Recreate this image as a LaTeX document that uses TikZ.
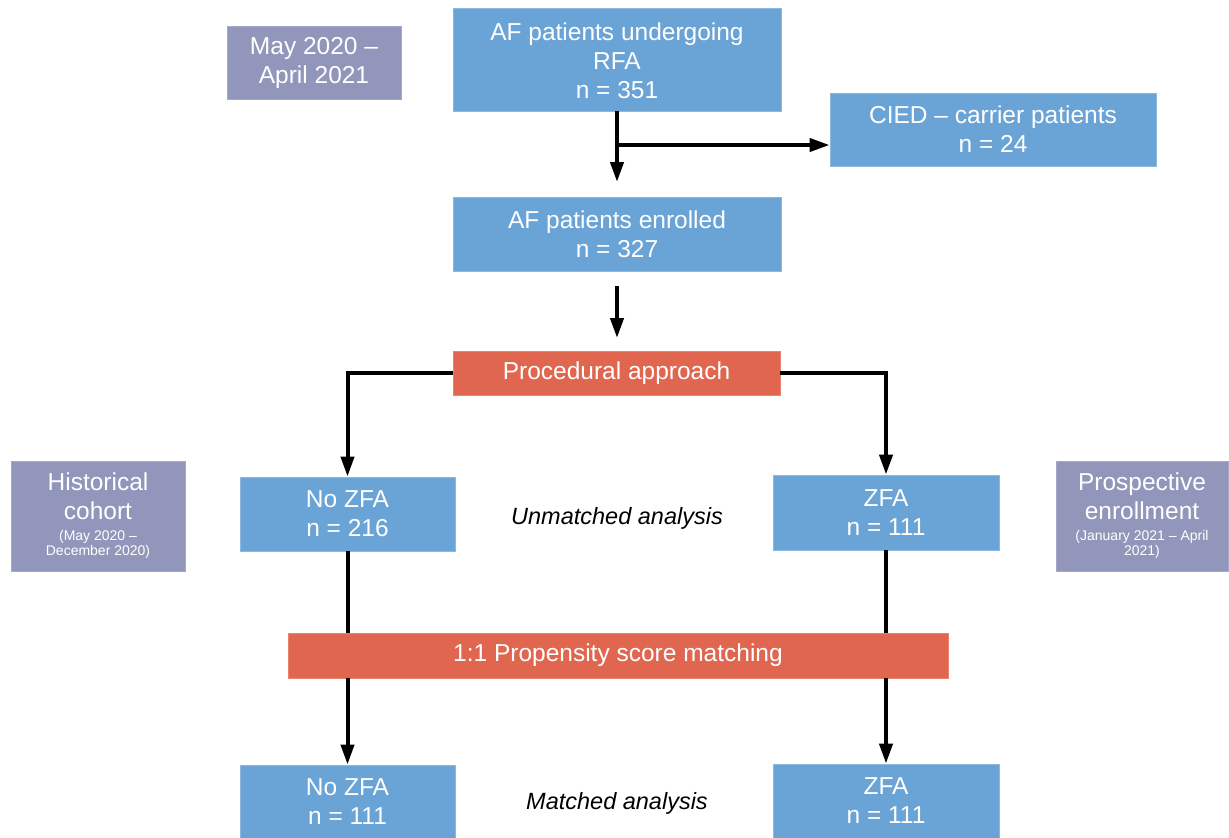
\documentclass[tikz,border=0pt]{standalone}
\usepackage{fontspec}
\setmainfont{Liberation Sans}
\usetikzlibrary{arrows.meta}
\definecolor{blueF}{RGB}{106,163,213}
\definecolor{blueD}{RGB}{140,185,225}
\definecolor{purF}{RGB}{146,150,186}
\definecolor{purD}{RGB}{165,168,200}
\definecolor{redF}{RGB}{224,102,80}
\definecolor{redD}{RGB}{235,130,110}
\tikzset{
  bx/.style={fill=blueF, draw=blueD, line width=0.8pt, text=white, align=center, inner sep=0pt,
    font=\fontsize{24.5}{29}\selectfont},
  pbx/.style={bx, fill=purF, draw=purD},
  rbx/.style={bx, fill=redF, draw=redD},
  lbl/.style={font=\fontsize{23.5}{28}\selectfont\itshape, text=black},
  arr/.style={line width=4pt, -{Triangle[length=20pt,width=13pt]}},
  ln/.style={line width=4pt}
}
\begin{document}
\begin{tikzpicture}[x=1pt,y=-1pt]
\useasboundingbox (0,0) rectangle (1229,838);
\begin{scope}
\clip (0,0) rectangle (1229,838);
\node[pbx, minimum width=174pt, minimum height=73pt] (date) at (314,63) {May 2020 –\\April 2021};
\node[bx, minimum width=328pt, minimum height=103pt] (top) at (617,59.5) {\raisebox{0pt}[20pt][0pt]{}AF patients undergoing\\RFA\\n = 351};
\node[bx, minimum width=326pt, minimum height=73pt] (cied) at (993,129.5) {CIED – carrier patients\\n = 24};
\node[bx, minimum width=328pt, minimum height=74pt] (enr) at (617,234) {AF patients enrolled\\n = 327};
\node[rbx, minimum width=327pt, minimum height=44pt] (proc) at (616.5,373) {Procedural approach};
\node[pbx, minimum width=174pt, minimum height=110pt] (hist) at (98,516) {Historical\\cohort\\[-8pt]{\fontsize{14}{16}\selectfont (May 2020 –}\\[-14pt]{\fontsize{14}{16}\selectfont December 2020)}};
\node[bx, minimum width=215pt, minimum height=74pt] (nozfa) at (347.5,514) {No ZFA\\n = 216};
\node[bx, minimum width=226pt, minimum height=75pt] (zfa) at (886,512.5) {ZFA\\n = 111};
\node[pbx, minimum width=172pt, minimum height=110pt] (prosp) at (1142,516) {Prospective\\enrollment\\[-8pt]{\fontsize{14}{16}\selectfont (January 2021 – April}\\[-14pt]{\fontsize{14}{16}\selectfont 2021)}};
\node[lbl] (unm) at (617,518) {Unmatched analysis};
\node[rbx, minimum width=660pt, minimum height=45pt] (psm) at (618,655.5) {1:1 Propensity score matching};
\node[bx, minimum width=215pt, minimum height=74pt] (nozfa2) at (347.5,802) {No ZFA\\n = 111};
\node[bx, minimum width=226pt, minimum height=74pt] (zfa2) at (886,801) {ZFA\\n = 111};
\node[lbl] (mat) at (617,803) {Matched analysis};
\end{scope}
\coordinate (a1) at (617,182);
\coordinate (b1) at (617,145);
\coordinate (c0) at (617,286);
\coordinate (c1) at (617,338);
\draw[arr] (top.south) -- (a1);
\draw[arr] (b1) -- (b1 -| cied.west);
\draw[arr] (c0) -- (c1);
\draw[arr] (proc.west) -| (nozfa.north);
\draw[arr] (proc.east) -| (zfa.north);
\draw[ln] (nozfa.south) -- (nozfa.south |- psm.north);
\draw[ln] (zfa.south) -- (zfa.south |- psm.north);
\draw[arr] (nozfa.south |- psm.south) -- (nozfa2.north);
\draw[arr] (zfa.south |- psm.south) -- (zfa2.north);
\end{tikzpicture}
\end{document}
